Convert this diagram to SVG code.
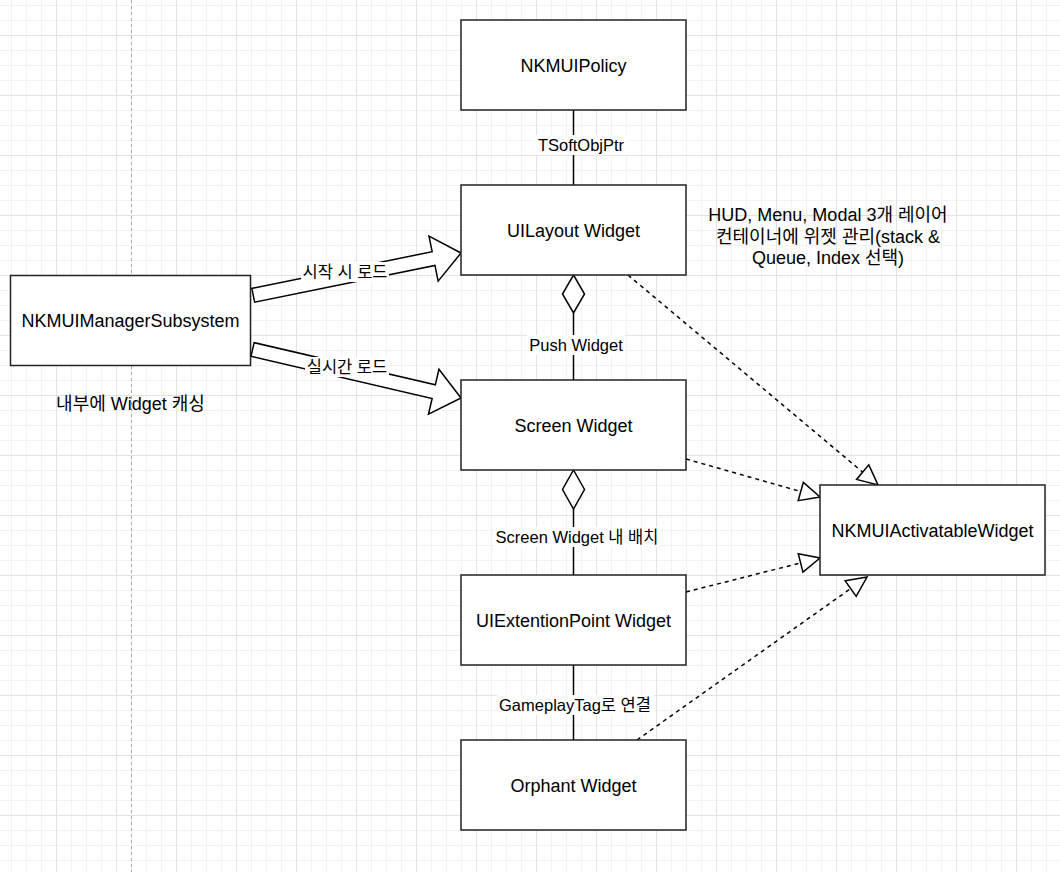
<svg xmlns="http://www.w3.org/2000/svg" width="1060" height="872" viewBox="0 0 1060 872">
<style>
.box{fill:#fff;stroke:#222;stroke-width:1.5}
.t{font-family:"Liberation Sans","Noto Sans CJK KR",sans-serif;font-size:18px;fill:#000;text-anchor:middle;dominant-baseline:central}
.el{font-family:"Liberation Sans","Noto Sans CJK KR",sans-serif;font-size:16.5px;fill:#000;text-anchor:middle;dominant-baseline:central}
.line{stroke:#000;stroke-width:1.5;fill:none}
.dash{stroke:#000;stroke-width:1.5;fill:none;stroke-dasharray:4 4;marker-end:url(#tri)}
.diamond{fill:#fff;stroke:#000;stroke-width:1.5}
.flex{fill:#fff;stroke:#000;stroke-width:1.5;stroke-linejoin:miter}
.lbg{fill:#fff}
</style>
<defs>
<pattern id="grid" x="56" y="35" width="60" height="60" patternUnits="userSpaceOnUse">
<rect x="15" y="0" width="1" height="60" fill="#f2f2f2"/>
<rect x="30" y="0" width="1" height="60" fill="#f2f2f2"/>
<rect x="45" y="0" width="1" height="60" fill="#f2f2f2"/>
<rect x="0" y="15" width="60" height="1" fill="#f2f2f2"/>
<rect x="0" y="30" width="60" height="1" fill="#f2f2f2"/>
<rect x="0" y="45" width="60" height="1" fill="#f2f2f2"/>
<rect x="0" y="0" width="1" height="60" fill="#e2e2e2"/>
<rect x="0" y="0" width="60" height="1" fill="#e2e2e2"/>
</pattern>
<marker id="tri" markerUnits="userSpaceOnUse" markerWidth="24" markerHeight="24" viewBox="-22 -11 24 22" refX="0" refY="0" orient="auto">
<path d="M-20,-9.5 L0,0 L-20,9.5 Z" fill="#fff" stroke="#000" stroke-width="1.5"/>
</marker>
</defs>
<rect width="1060" height="872" fill="#fff"/>
<rect width="1060" height="872" fill="url(#grid)"/>
<line x1="131.5" y1="0" x2="131.5" y2="872" stroke="#aaa" stroke-width="1" stroke-dasharray="3 3"/>

<g id="connectors">
  <line class="line" x1="573.5" y1="110" x2="573.5" y2="185"/>
  <rect class="lbg" x="534" y="135" width="94" height="20"/>
  <text class="el" x="581" y="145">TSoftObjPtr</text>

  <line class="line" x1="573.5" y1="313" x2="573.5" y2="380"/>
  <path class="diamond" d="M573.5,275 L584.5,294 L573.5,313 L562.5,294 Z"/>
  <rect class="lbg" x="527" y="335" width="98" height="20"/>
  <text class="el" x="576" y="345">Push Widget</text>

  <line class="line" x1="573.5" y1="509" x2="573.5" y2="575"/>
  <path class="diamond" d="M573.5,470 L584.5,489.5 L573.5,509 L562.5,489.5 Z"/>
  <rect class="lbg" x="494" y="527" width="166" height="20"/>
  <text class="el" x="577" y="537">Screen Widget 내 배치</text>

  <line class="line" x1="573.5" y1="665" x2="573.5" y2="740"/>
  <rect class="lbg" x="497" y="695" width="157" height="20"/>
  <text class="el" x="575" y="705">GameplayTag로 연결</text>

  <path class="flex" transform="translate(461,253) rotate(-11.5)" d="M0,0 L-28,-23 L-28,-7 L-212,-7 L-212,7 L-28,7 L-28,23 Z"/>
  <rect class="lbg" x="301" y="262" width="88" height="20"/>
  <text class="el" x="345" y="272">시작 시 로드</text>

  <path class="flex" transform="translate(461,398) rotate(13.1)" d="M0,0 L-28,-23 L-28,-7 L-214,-7 L-214,7 L-28,7 L-28,23 Z"/>
  <rect class="lbg" x="305" y="357" width="84" height="20"/>
  <text class="el" x="347" y="367">실시간 로드</text>

  <line class="dash" x1="628" y1="275" x2="878" y2="485"/>
  <line class="dash" x1="686" y1="459" x2="820" y2="497"/>
  <line class="dash" x1="686" y1="592" x2="820" y2="558"/>
  <line class="dash" x1="637" y1="740" x2="867" y2="577"/>
</g>

<g id="policy">
  <rect class="box" x="461" y="20" width="225" height="90"/>
  <text class="t" x="573.5" y="66">NKMUIPolicy</text>
</g>
<g id="uilayout">
  <rect class="box" x="461" y="185" width="225" height="90"/>
  <text class="t" x="573.5" y="231">UILayout Widget</text>
</g>
<g id="screen">
  <rect class="box" x="461" y="380" width="225" height="90"/>
  <text class="t" x="573.5" y="426">Screen Widget</text>
</g>
<g id="extpoint">
  <rect class="box" x="461" y="575" width="225" height="90"/>
  <text class="t" x="573.5" y="621">UIExtentionPoint Widget</text>
</g>
<g id="orphant">
  <rect class="box" x="461" y="740" width="225" height="90"/>
  <text class="t" x="573.5" y="786">Orphant Widget</text>
</g>
<g id="subsystem">
  <rect class="box" x="10.5" y="275.5" width="240" height="90"/>
  <text class="t" x="130.5" y="321">NKMUIManagerSubsystem</text>
</g>
<g id="activatable">
  <rect class="box" x="820" y="485" width="225" height="90"/>
  <text class="t" x="932.5" y="531">NKMUIActivatableWidget</text>
</g>
<g id="note-layout">
  <text class="t" x="828" y="215">HUD, Menu, Modal 3개 레이어</text>
  <text class="t" x="828" y="236.5">컨테이너에 위젯 관리(stack &amp;</text>
  <text class="t" x="828" y="258">Queue, Index 선택)</text>
</g>
<g id="note-cache">
  <text class="t" x="130.5" y="404">내부에 Widget 캐싱</text>
</g>
</svg>
